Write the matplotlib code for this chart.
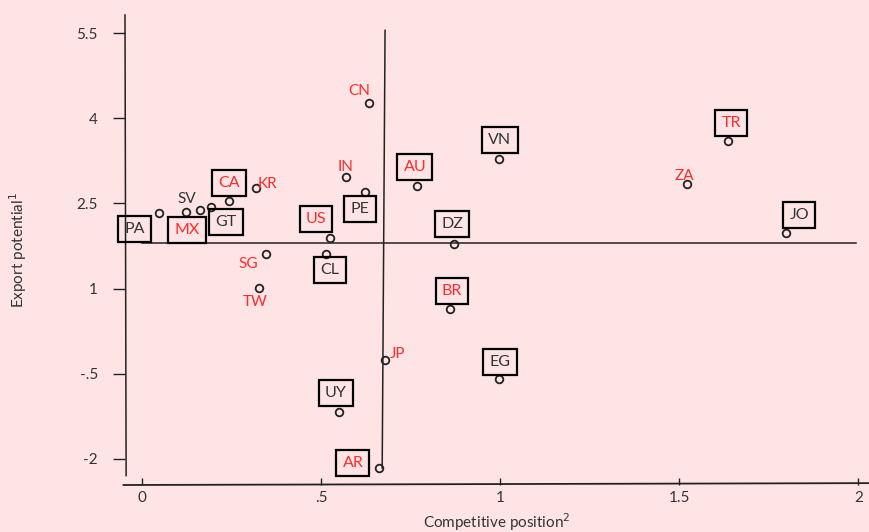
import matplotlib
matplotlib.use("Agg")
import matplotlib.pyplot as plt

plt.rcParams['font.family'] = ['Lato', 'DejaVu Sans']

# data
codes = ['PA', 'SV', 'MX', 'GT', 'CA', 'KR', 'SG', 'TW', 'IN', 'PE', 'US', 'CL',
         'CN', 'AU', 'VN', 'DZ', 'BR', 'JP', 'EG', 'UY', 'AR', 'TR', 'ZA', 'JO']
competitive = [0.047, 0.123, 0.162, 0.193, 0.243, 0.318, 0.346, 0.327, 0.570, 0.623, 0.525, 0.514,
               0.634, 0.768, 0.997, 0.872, 0.860, 0.679, 0.997, 0.550, 0.662, 1.637, 1.522, 1.799]
export_pot = [2.33, 2.35, 2.38, 2.44, 2.54, 2.77, 1.61, 1.01, 2.96, 2.70, 1.89, 1.61,
              4.27, 2.81, 3.28, 1.78, 0.64, -0.26, -0.59, -1.17, -2.16, 3.60, 2.85, 1.98]
red_codes = ['CA', 'KR', 'MX', 'SG', 'TW', 'IN', 'US', 'CN', 'AU', 'BR', 'JP', 'AR', 'TR', 'ZA']
boxed_codes = ['PA', 'MX', 'GT', 'CA', 'US', 'PE', 'CL', 'AU', 'VN', 'DZ', 'BR', 'EG', 'UY', 'AR', 'TR', 'JO']
cross_x = 0.675
cross_y = 1.80
x_ticks = [0, 0.5, 1, 1.5, 2]
x_ticklabels = ['0', '.5', '1', '1.5', '2']
y_ticks = [5.5, 4, 2.5, 1, -0.5, -2]
y_ticklabels = ['5.5', '4', '2.5', '1', '-.5', '-2']

# label offsets from the marker, in pixels (right, down)
label_offsets = {
    'PA': (-24, 16), 'SV': (1, -13), 'MX': (-13, 20), 'GT': (15, 15), 'CA': (0, -18),
    'KR': (12, -4), 'SG': (-17, 10), 'TW': (-4, 14), 'IN': (0, -10), 'PE': (-5, 17),
    'US': (-14, -19), 'CL': (4, 16), 'CN': (-10, -12), 'AU': (-2, -19), 'VN': (1, -19),
    'DZ': (-2, -20), 'BR': (2, -18), 'JP': (13, -6), 'EG': (1, -17), 'UY': (-3, -19),
    'AR': (-26, -5), 'TR': (3, -18), 'ZA': (-3, -8), 'JO': (13, -18),
}

bg = '#FFE4E6'
red = '#FF2B2B'
ink = '#222222'
txt = '#333333'

fig = plt.figure(figsize=(8.69, 5.32), dpi=100, facecolor=bg)
ax = fig.add_axes([125 / 869, 1 - 485 / 532, 744 / 869, 470 / 532])
ax.set_facecolor(bg)
ax.set_xlim(-0.047, 2.03)
ax.set_ylim(-2.46, 5.82)

for s in ax.spines.values():
    s.set_visible(False)
# hand-drawn looking axis lines
ax.plot([0.0015, 0.0], [0.02, 1.0], transform=ax.transAxes, color=ink, lw=1.1, clip_on=False)
ax.plot([-0.002, 1], [0, 0.004], transform=ax.transAxes, color=ink, lw=1.3, clip_on=False)

# crosshair
ax.plot([0, 1.995], [cross_y, cross_y], color=ink, lw=1.1)
ax.plot([cross_x - 0.004, cross_x + 0.004], [-2.16, 5.55], color=ink, lw=1.1)

ax.plot(competitive, export_pot, 'o', ms=5.5, mfc='none', mec=ink, mew=1.3, ls='none')

for code, x, y in zip(codes, competitive, export_pot):
    dx, dy = label_offsets[code]
    color = red if code in red_codes else txt
    if code in boxed_codes:
        bbox = dict(boxstyle='square,pad=0.38', fc='none', ec='black', lw=1.6)
        fs = 11.5
    else:
        bbox = None
        fs = 11
    ax.annotate(code, (x, y), xytext=(dx * 0.72, -dy * 0.72), textcoords='offset points',
                ha='center', va='center', color=color, fontsize=fs, bbox=bbox)

ax.set_xticks(x_ticks)
ax.set_xticklabels(x_ticklabels)
ax.set_yticks(y_ticks)
ax.set_yticklabels(y_ticklabels)
ax.tick_params(axis='y', direction='out', length=8.5, width=1, pad=11, labelsize=11, colors=ink,
               labelcolor=txt)
ax.tick_params(axis='x', direction='in', length=5, width=1, pad=4, labelsize=11, colors=ink,
               labelcolor=txt)

ax.set_xlabel('Competitive position$^2$', fontsize=11, color=txt, labelpad=5)
ax.set_ylabel('Export potential$^1$', fontsize=11, color=txt, labelpad=34)

fig.savefig('out.png', dpi=100, facecolor=bg)
